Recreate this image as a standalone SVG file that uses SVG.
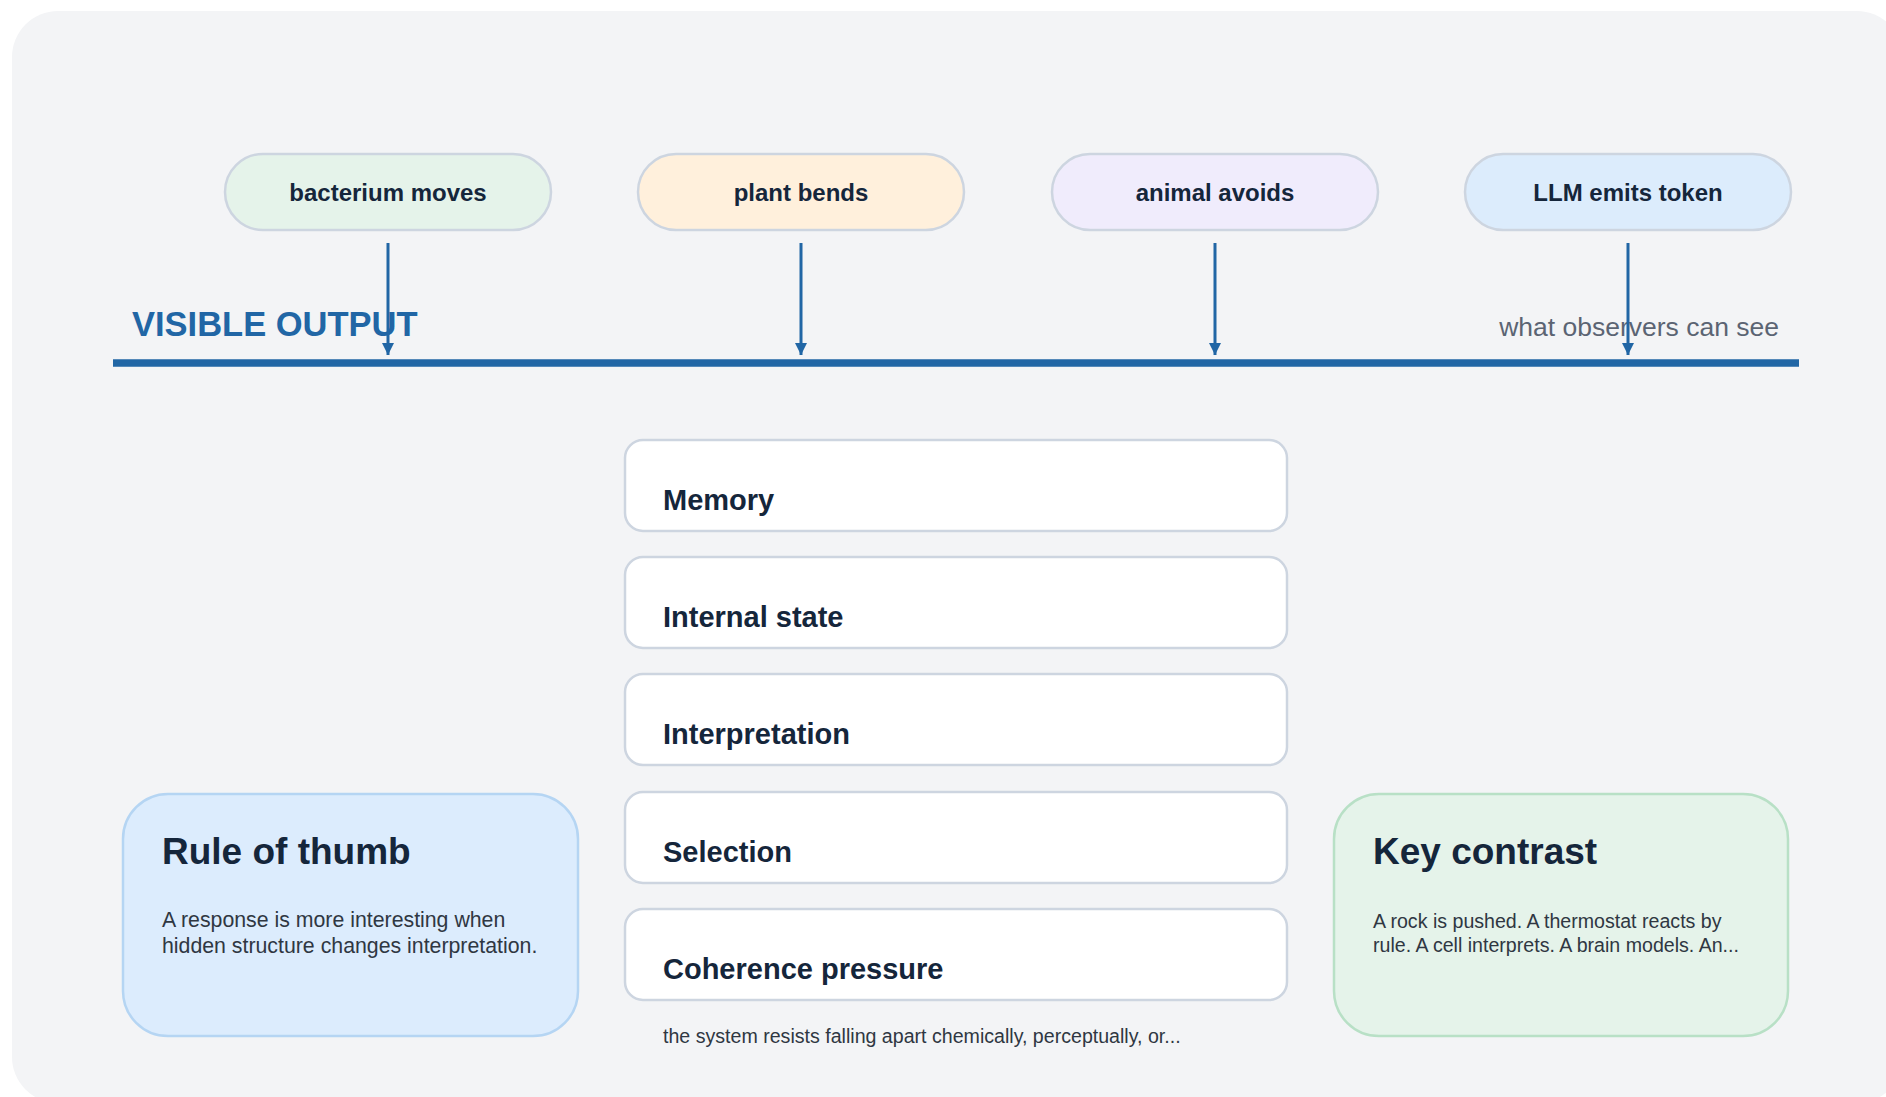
<svg xmlns="http://www.w3.org/2000/svg" width="1886" height="1097" viewBox="0 0 1886 1097">
<defs>
<style>
.pill{stroke:#cdd5e0;stroke-width:2.5}
.pl{font-family:"Liberation Sans",Arial,sans-serif;font-weight:bold;font-size:24px;fill:#15263b;text-anchor:middle}
.box{fill:#ffffff;stroke:#cdd5e0;stroke-width:2.5}
.bl{font-family:"Liberation Sans",Arial,sans-serif;font-weight:bold;font-size:29px;fill:#15263b}
.ct{font-family:"Liberation Sans",Arial,sans-serif;font-weight:bold;font-size:37px;fill:#15263b}
.cb{font-family:"Liberation Sans",Arial,sans-serif;font-size:21.3px;fill:#2f3742}
.cb2{font-family:"Liberation Sans",Arial,sans-serif;font-size:19.6px;fill:#2f3742}
.conn{stroke:#2166a5;stroke-width:3;fill:none;marker-end:url(#ah)}
</style>
<marker id="ah" viewBox="0 0 12 12" refX="12" refY="6" markerWidth="12" markerHeight="12" markerUnits="userSpaceOnUse" orient="auto">
<path d="M0,0 L12,6 L0,12 Z" fill="#2166a5"/>
</marker>
</defs>
<rect width="1886" height="1097" fill="#ffffff"/>
<rect x="12" y="11" width="1891" height="1092" rx="46" fill="#f3f4f6"/>

<g id="visible-output">
<line x1="113" y1="363" x2="1799" y2="363" stroke="#2166a5" stroke-width="7.5"/>
<text x="132" y="336" font-family="Liberation Sans, Arial, sans-serif" font-weight="bold" font-size="34.5" fill="#2166a5">VISIBLE OUTPUT</text>
<text x="1779" y="336" font-family="Liberation Sans, Arial, sans-serif" font-size="26.5" fill="#5b6473" text-anchor="end">what observers can see</text>
</g>

<g id="node-bacterium">
<rect class="pill" x="225" y="154" width="326" height="76" rx="38" fill="#e5f3ea"/>
<text class="pl" x="388" y="201">bacterium moves</text>
</g>
<g id="node-plant">
<rect class="pill" x="638" y="154" width="326" height="76" rx="38" fill="#fff0dc"/>
<text class="pl" x="801" y="201">plant bends</text>
</g>
<g id="node-animal">
<rect class="pill" x="1052" y="154" width="326" height="76" rx="38" fill="#f0ecfc"/>
<text class="pl" x="1215" y="201">animal avoids</text>
</g>
<g id="node-llm">
<rect class="pill" x="1465" y="154" width="326" height="76" rx="38" fill="#dcecfc"/>
<text class="pl" x="1628" y="201">LLM emits token</text>
</g>

<g id="connectors">
<line class="conn" x1="388" y1="243" x2="388" y2="355"/>
<line class="conn" x1="801" y1="243" x2="801" y2="355"/>
<line class="conn" x1="1215" y1="243" x2="1215" y2="355"/>
<line class="conn" x1="1628" y1="243" x2="1628" y2="355"/>
</g>

<g id="layer-memory">
<rect class="box" x="625" y="440" width="662" height="91" rx="18"/>
<text class="bl" x="663" y="510">Memory</text>
</g>
<g id="layer-internal-state">
<rect class="box" x="625" y="557" width="662" height="91" rx="18"/>
<text class="bl" x="663" y="627">Internal state</text>
</g>
<g id="layer-interpretation">
<rect class="box" x="625" y="674" width="662" height="91" rx="18"/>
<text class="bl" x="663" y="744">Interpretation</text>
</g>
<g id="layer-selection">
<rect class="box" x="625" y="792" width="662" height="91" rx="18"/>
<text class="bl" x="663" y="862">Selection</text>
</g>
<g id="layer-coherence">
<rect class="box" x="625" y="909" width="662" height="91" rx="18"/>
<text class="bl" x="663" y="979">Coherence pressure</text>
<text x="663" y="1043" font-family="Liberation Sans, Arial, sans-serif" font-size="19.6" fill="#2f3742">the system resists falling apart chemically, perceptually, or...</text>
</g>

<g id="card-rule">
<rect x="123" y="794" width="455" height="242" rx="45" fill="#dcecfd" stroke="#b5d5f3" stroke-width="2.5"/>
<text class="ct" x="162" y="864">Rule of thumb</text>
<text class="cb" x="162" y="927">A response is more interesting when</text>
<text class="cb" x="162" y="953">hidden structure changes interpretation.</text>
</g>

<g id="card-contrast">
<rect x="1334" y="794" width="454" height="242" rx="45" fill="#e5f3ea" stroke="#b8e0c6" stroke-width="2.5"/>
<text class="ct" x="1373" y="864">Key contrast</text>
<text class="cb2" x="1373" y="928">A rock is pushed. A thermostat reacts by</text>
<text class="cb2" x="1373" y="952">rule. A cell interprets. A brain models. An...</text>
</g>
</svg>
